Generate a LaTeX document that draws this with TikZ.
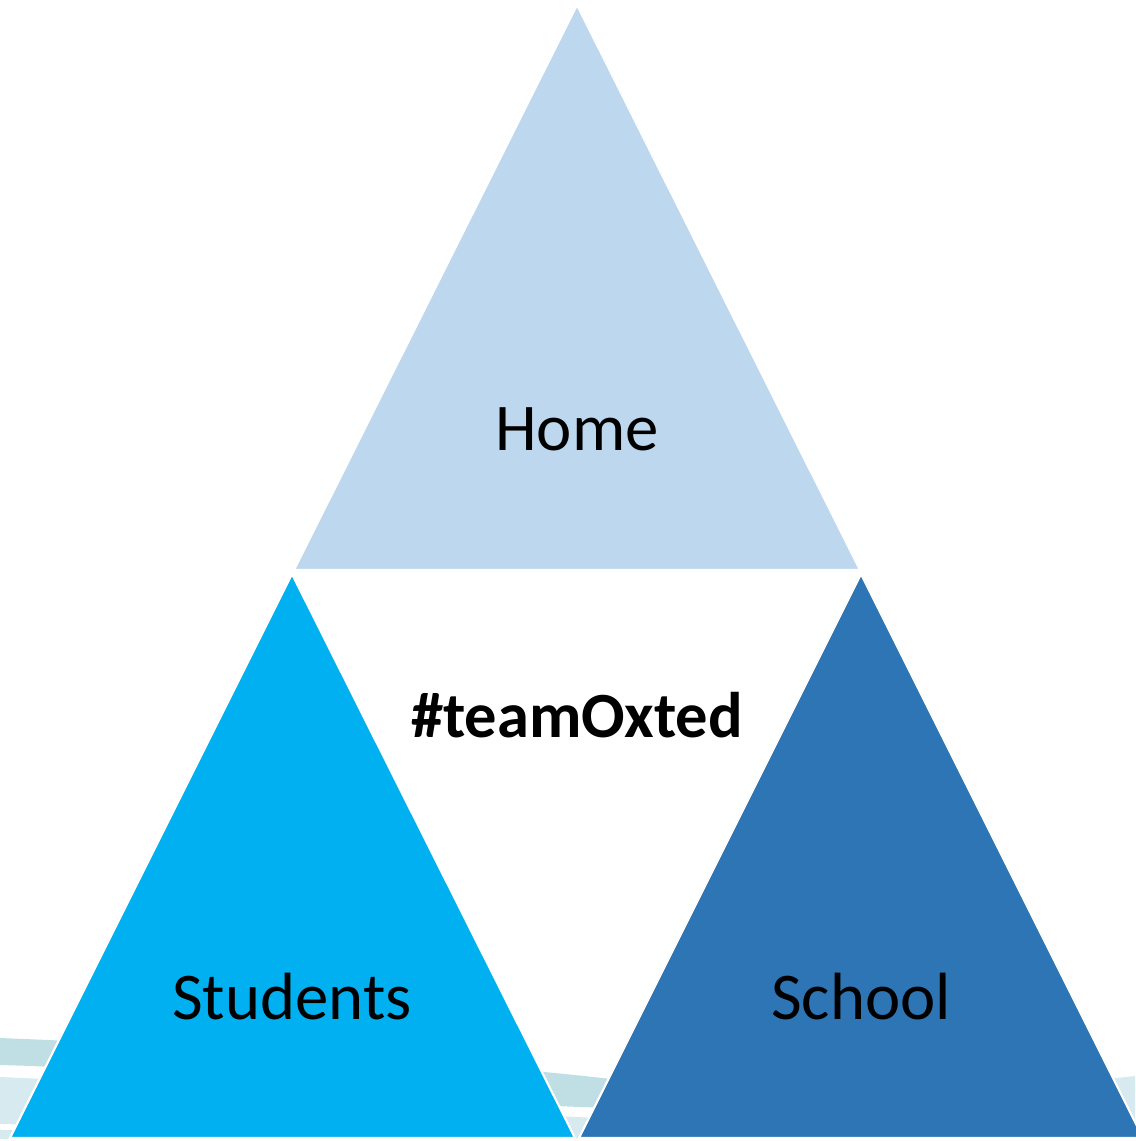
\documentclass[tikz,border=0pt]{standalone}
\usepackage{fontspec}
\setmainfont{Carlito}
\definecolor{homec}{HTML}{BDD7EE}
\definecolor{studc}{HTML}{00B0F0}
\definecolor{schoolc}{HTML}{2E75B6}
\definecolor{banda}{HTML}{C0DFE4}
\definecolor{bandb}{HTML}{D6EAEF}
\begin{document}
\begin{tikzpicture}[x=0.02cm,y=-0.02cm,
  tri/.style={draw=white,line width=1.2pt,line join=miter},
  lbl/.style={font=\fontsize{38}{46}\selectfont,text=black,inner sep=0pt}]
\useasboundingbox (0,0) rectangle (1135,1141);
% background bands
\fill[banda] (0,1038) .. controls (300,1050) and (500,1066) .. (620,1080)
  -- (620,1108) .. controls (400,1104) and (200,1070) .. (0,1065) -- cycle;
\fill[bandb] (0,1077) .. controls (200,1085) and (400,1110) .. (620,1119)
  .. controls (800,1125) and (1000,1090) .. (1135,1076)
  -- (1135,1141) -- (0,1141) -- cycle;
\fill[white] (0,1124) .. controls (200,1128) and (400,1138) .. (620,1139)
  -- (620,1141) -- (0,1141) -- cycle;
\fill[bandb] (0,1130) -- (200,1134) -- (200,1141) -- (0,1141) -- cycle;
% triangles
\coordinate (ht) at (577,5);
\coordinate (hl) at (294,570);
\coordinate (hr) at (860,570);
\coordinate (lt) at (292,574);
\coordinate (ll) at (10,1138);
\coordinate (lr) at (575,1138);
\coordinate (rt) at (861,574);
\coordinate (rl) at (579,1138);
\coordinate (rr) at (1143,1138);
\filldraw[tri,fill=homec] (ht) -- (hr) -- (hl) -- cycle;
\filldraw[tri,fill=studc] (lt) -- (lr) -- (ll) -- cycle;
\filldraw[tri,fill=schoolc] (rt) -- (rr) -- (rl) -- cycle;
\fill[white] (0,1139) rectangle (1135,1141);
% labels
\node[lbl] (home) at (577,429) {Home};
\node[lbl,font=\fontsize{36.7}{44}\selectfont\bfseries] (team) at (577,715) {\#teamOxted};
\node[lbl] (stud) at (292,997) {Students};
\node[lbl] (school) at (861,997) {School};
\end{tikzpicture}
\end{document}
